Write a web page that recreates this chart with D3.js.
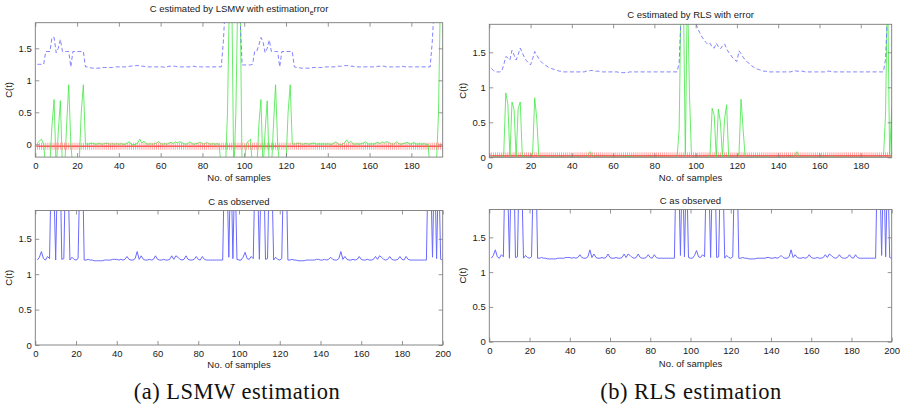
<!DOCTYPE html>
<html>
<head>
<meta charset="utf-8">
<script src="https://cdn.jsdelivr.net/npm/d3@7"></script>
<style>
  body { margin: 0; background: #fff; }
  svg { display: block; font-family: "Liberation Sans", Arial, Helvetica, sans-serif; }
</style>
</head>
<body>
<svg id="fig" width="900" height="410"></svg>
<script>
// ---- observed C(t), samples 1..200 ----
const observedC = [
  1.20,1.24,1.32,1.22,1.20,1.25,1.22,2.80,2.40,1.20,
  2.60,2.90,1.21,1.22,2.80,2.50,1.20,1.24,1.21,1.20,
  1.22,2.60,2.90,1.20,1.20,1.21,1.20,1.20,1.19,1.19,
  1.19,1.19,1.19,1.20,1.20,1.20,1.20,1.21,1.21,1.21,
  1.20,1.21,1.20,1.21,1.25,1.21,1.20,1.20,1.22,1.32,
  1.21,1.26,1.21,1.20,1.20,1.21,1.20,1.21,1.26,1.21,
  1.20,1.20,1.21,1.20,1.20,1.21,1.26,1.21,1.26,1.24,
  1.21,1.20,1.21,1.26,1.21,1.20,1.20,1.21,1.25,1.21,
  1.20,1.25,1.21,1.20,1.20,1.20,1.20,1.20,1.20,1.20,
  1.20,1.20,2.80,2.60,1.24,2.70,1.22,2.60,1.21,1.20,
  1.20,1.24,1.31,1.22,1.21,1.25,1.22,2.70,2.50,1.21,
  2.60,2.80,1.21,1.22,2.70,2.60,1.20,1.24,1.21,1.20,
  1.22,2.70,2.80,1.20,1.20,1.21,1.20,1.20,1.19,1.19,
  1.19,1.19,1.20,1.20,1.20,1.20,1.20,1.21,1.21,1.20,
  1.20,1.21,1.20,1.21,1.24,1.21,1.20,1.20,1.22,1.32,
  1.21,1.25,1.21,1.20,1.20,1.21,1.20,1.21,1.25,1.21,
  1.20,1.20,1.21,1.20,1.20,1.21,1.25,1.21,1.26,1.24,
  1.21,1.20,1.21,1.25,1.21,1.20,1.20,1.21,1.25,1.21,
  1.20,1.25,1.21,1.20,1.20,1.20,1.20,1.20,1.20,1.20,
  1.20,1.20,2.80,2.60,1.24,2.70,1.22,2.60,1.21,1.20
];

// ---- LSMW estimate and estimation error, samples 1..195 ----
const lsmwEstimate = [
  1.25,1.25,1.25,1.25,1.45,1.45,1.45,1.67,1.67,1.43,
  1.50,1.64,1.45,1.45,1.45,1.45,1.21,1.45,1.45,1.45,
  1.45,1.45,1.45,1.21,1.21,1.20,1.19,1.19,1.19,1.19,
  1.19,1.20,1.20,1.20,1.20,1.20,1.20,1.21,1.21,1.21,
  1.21,1.21,1.21,1.21,1.22,1.22,1.23,1.23,1.23,1.23,
  1.22,1.22,1.21,1.21,1.21,1.21,1.21,1.21,1.21,1.21,
  1.21,1.20,1.21,1.22,1.22,1.22,1.22,1.21,1.21,1.21,
  1.21,1.21,1.21,1.21,1.22,1.22,1.21,1.21,1.21,1.21,
  1.21,1.21,1.21,1.21,1.21,1.21,1.21,1.21,1.21,1.60,
  2.20,2.40,2.60,2.60,2.50,2.60,2.40,2.00,1.24,1.24,
  1.24,1.24,1.24,1.25,1.45,1.45,1.55,1.67,1.60,1.43,
  1.50,1.63,1.45,1.45,1.45,1.45,1.21,1.45,1.45,1.45,
  1.45,1.45,1.45,1.21,1.20,1.20,1.19,1.19,1.19,1.19,
  1.19,1.19,1.20,1.20,1.20,1.20,1.20,1.20,1.21,1.21,
  1.21,1.21,1.21,1.21,1.22,1.22,1.22,1.23,1.23,1.23,
  1.22,1.22,1.21,1.21,1.21,1.21,1.21,1.21,1.21,1.21,
  1.21,1.21,1.21,1.22,1.22,1.22,1.22,1.21,1.21,1.21,
  1.21,1.21,1.21,1.21,1.21,1.22,1.21,1.21,1.21,1.21,
  1.21,1.21,1.21,1.21,1.21,1.21,1.21,1.21,1.21,1.60,
  2.20,2.40,2.60,2.60,2.50
];
const lsmwError = [
  0.02,0.05,0.08,0.00,-0.40,-0.40,-0.30,0.30,0.70,-0.40,
  0.20,0.68,-0.40,-0.40,0.30,0.93,0.02,-0.40,-0.40,-0.40,
  -0.30,0.50,0.93,0.01,0.00,0.01,0.02,0.01,0.00,0.01,
  0.01,0.00,0.01,0.02,0.01,0.00,0.01,0.00,0.01,0.00,
  0.01,0.00,0.00,0.02,0.04,0.00,-0.01,0.00,0.02,0.08,
  0.02,0.05,0.01,0.00,0.01,0.00,0.01,0.02,0.04,0.01,
  0.00,0.01,0.00,0.02,0.03,0.01,0.04,0.02,0.04,0.03,
  0.01,0.00,0.01,0.04,0.01,0.00,0.01,0.02,0.03,0.01,
  0.00,0.03,0.01,0.00,0.01,0.00,0.01,0.00,-0.40,-0.50,
  -0.40,0.50,2.50,2.50,-0.50,0.50,2.50,2.50,-0.50,-0.30,
  0.00,0.05,0.08,-0.40,-0.40,-0.40,0.30,0.70,-0.40,0.20,
  0.68,-0.40,-0.40,0.30,0.93,0.02,-0.40,-0.40,-0.40,-0.30,
  0.50,0.93,0.01,0.00,0.01,0.02,0.01,0.00,0.01,0.01,
  0.00,0.01,0.02,0.01,0.00,0.01,0.00,0.01,0.00,0.01,
  0.00,0.00,0.02,0.04,0.00,-0.01,0.00,0.02,0.07,0.02,
  0.05,0.01,0.00,0.01,0.00,0.01,0.02,0.04,0.01,0.00,
  0.01,0.00,0.02,0.03,0.01,0.04,0.02,0.04,0.03,0.01,
  0.00,0.01,0.04,0.01,0.00,0.01,0.02,0.03,0.01,0.00,
  0.03,0.01,0.00,0.01,0.00,0.01,0.00,0.00,-0.40,-0.50,
  -0.40,-0.30,0.50,2.50,2.50
];

// ---- RLS estimate and error, samples 1..195 ----
const rlsEstimate = [
  1.27,1.24,1.22,1.22,1.22,1.23,1.32,1.44,1.42,1.39,
  1.53,1.46,1.39,1.47,1.56,1.49,1.43,1.38,1.35,1.32,
  1.41,1.51,1.46,1.41,1.37,1.34,1.32,1.30,1.28,1.27,
  1.26,1.25,1.24,1.23,1.23,1.22,1.22,1.22,1.22,1.22,
  1.22,1.22,1.22,1.22,1.22,1.22,1.23,1.23,1.24,1.24,
  1.23,1.23,1.23,1.22,1.22,1.22,1.22,1.22,1.22,1.22,
  1.22,1.22,1.21,1.21,1.21,1.21,1.21,1.22,1.22,1.22,
  1.22,1.22,1.22,1.22,1.22,1.22,1.22,1.22,1.22,1.22,
  1.22,1.22,1.22,1.22,1.22,1.22,1.22,1.22,1.22,1.22,
  1.22,1.35,2.10,2.30,2.20,2.30,2.20,2.10,2.00,1.92,
  1.84,1.78,1.72,1.68,1.64,1.61,1.63,1.57,1.56,1.63,
  1.58,1.55,1.59,1.62,1.55,1.50,1.46,1.42,1.39,1.37,
  1.52,1.48,1.43,1.39,1.36,1.34,1.31,1.29,1.27,1.26,
  1.25,1.24,1.23,1.23,1.22,1.22,1.22,1.22,1.22,1.22,
  1.22,1.22,1.22,1.22,1.22,1.22,1.23,1.24,1.23,1.23,
  1.23,1.23,1.22,1.22,1.22,1.22,1.22,1.22,1.22,1.22,
  1.22,1.22,1.22,1.23,1.23,1.22,1.22,1.22,1.22,1.22,
  1.22,1.22,1.22,1.22,1.22,1.22,1.22,1.22,1.22,1.22,
  1.22,1.22,1.22,1.22,1.22,1.22,1.22,1.22,1.22,1.22,
  1.22,1.40,2.10,2.30,2.20
];
const rlsError = [
  0.00,0.00,0.01,0.00,0.00,0.00,0.05,0.92,0.76,0.00,
  0.79,0.68,0.00,0.70,0.79,0.00,0.00,0.01,0.00,0.00,
  0.05,0.85,0.55,0.02,0.00,0.01,0.00,0.00,0.00,0.01,
  0.00,0.00,0.00,0.01,0.00,0.00,0.00,0.00,0.01,0.00,
  0.00,0.00,0.01,0.00,0.00,0.00,0.01,0.03,0.08,0.02,
  0.00,0.01,0.00,0.00,0.00,0.01,0.00,0.00,0.01,0.00,
  0.00,0.00,0.00,0.01,0.00,0.00,0.02,0.00,0.01,0.00,
  0.00,0.00,0.01,0.00,0.00,0.00,0.00,0.01,0.00,0.00,
  0.00,0.01,0.00,0.00,0.00,0.00,0.00,0.00,0.00,0.00,
  0.00,0.40,2.50,2.50,0.00,2.50,0.90,0.00,0.00,0.00,
  0.00,0.00,0.00,0.00,0.00,0.00,0.05,0.70,0.60,0.00,
  0.69,0.50,0.00,0.55,0.75,0.00,0.00,0.00,0.00,0.00,
  0.05,0.83,0.40,0.00,0.00,0.00,0.00,0.00,0.01,0.00,
  0.00,0.00,0.00,0.01,0.00,0.00,0.00,0.00,0.00,0.00,
  0.00,0.00,0.00,0.00,0.00,0.00,0.01,0.03,0.08,0.02,
  0.00,0.00,0.00,0.00,0.01,0.00,0.00,0.00,0.00,0.00,
  0.01,0.00,0.00,0.00,0.00,0.01,0.00,0.00,0.00,0.00,
  0.00,0.01,0.00,0.00,0.00,0.00,0.00,0.00,0.00,0.00,
  0.00,0.00,0.00,0.00,0.00,0.00,0.00,0.00,0.00,0.00,
  0.00,0.60,2.50,0.00,0.70
];

// level of the '+' marker row drawn under each estimate
const lsmwMarkerLevel = -0.03;
const rlsMarkerLevel = 0.02;

// axis ticks
const estXTicks = [0, 20, 40, 60, 80, 100, 120, 140, 160, 180];
const obsXTicks = [0, 20, 40, 60, 80, 100, 120, 140, 160, 180, 200];
const yTickValues = [0, 0.5, 1, 1.5];

// texts
const xLabel = "No. of samples";
const yLabel = "C(t)";
const captions = ["(a) LSMW estimation", "(b) RLS estimation"];

const COL = {
  est: "#7474ff",
  obs: "#6a6aff",
  err: "#45e845",
  mark: "#ff2a2a",
  box: "#7a7a7a",
  text: "#1a1a1a"
};

const svg = d3.select("#fig");
let clipCount = 0;

function drawPanel(cfg) {
  const { left, right, top, bottom, xDomain, yDomain, xTicks } = cfg;
  const x = d3.scaleLinear().domain(xDomain).range([left, right]);
  const y = d3.scaleLinear().domain(yDomain).range([bottom, top]);
  const g = svg.append("g");

  const clipId = "clip" + (clipCount++);
  svg.append("clipPath").attr("id", clipId)
    .append("rect").attr("x", left).attr("y", top)
    .attr("width", right - left).attr("height", bottom - top);

  const plot = g.append("g").attr("clip-path", `url(#${clipId})`);
  const line = d3.line().x((d, i) => x(i + 1)).y(d => y(d));

  if (cfg.marker !== undefined) {
    const pts = d3.range(1, cfg.markerCount + 1);
    plot.append("path")
      .attr("d", pts.map(t => {
        const cx = x(t), cy = y(cfg.marker);
        return `M${cx - 3.5},${cy}H${cx + 3.5}M${cx},${cy - 3.5}V${cy + 3.5}`;
      }).join(""))
      .attr("fill", "none").attr("stroke", COL.mark)
      .attr("stroke-width", 0.8).attr("stroke-opacity", 0.55);
  }
  if (cfg.error) {
    plot.append("path").datum(cfg.error).attr("d", line)
      .attr("fill", "none").attr("stroke", COL.err)
      .attr("stroke-width", 0.9).attr("stroke-opacity", 0.9);
  }
  if (cfg.estimate) {
    plot.append("path").datum(cfg.estimate).attr("d", line)
      .attr("fill", "none").attr("stroke", COL.est)
      .attr("stroke-width", 0.9).attr("stroke-dasharray", "4,2.5");
  }
  if (cfg.observed) {
    plot.append("path").datum(cfg.observed).attr("d", line)
      .attr("fill", "none").attr("stroke", COL.obs)
      .attr("stroke-width", 1);
  }

  // axes: ticks point inwards on all four sides
  const ax = (gen, tr, labels) => {
    const a = g.append("g").attr("transform", tr).call(gen);
    a.select(".domain").remove();
    a.selectAll(".tick line").attr("stroke", COL.box).attr("stroke-width", 0.8);
    a.selectAll(".tick text").attr("fill", COL.text)
      .style("font-size", "9.5px").style("font-family", "'Liberation Sans', Arial, sans-serif");
    if (!labels) a.selectAll(".tick text").remove();
    return a;
  };
  ax(d3.axisBottom(x).tickValues(xTicks).tickSize(-4).tickPadding(5.2).tickFormat(d3.format("d")),
     `translate(0,${bottom})`, true);
  ax(d3.axisTop(x).tickValues(xTicks).tickSize(-4), `translate(0,${top})`, false);
  ax(d3.axisLeft(y).tickValues(yTickValues).tickSize(-4).tickPadding(3.6).tickFormat(d => String(d)),
     `translate(${left},0)`, true);
  ax(d3.axisRight(y).tickValues(yTickValues).tickSize(-4), `translate(${right},0)`, false);

  g.append("rect").attr("x", left).attr("y", top)
    .attr("width", right - left).attr("height", bottom - top)
    .attr("fill", "none").attr("stroke", COL.box).attr("stroke-width", 0.9);

  const cx = (left + right) / 2;
  // title
  const title = g.append("text").attr("x", cx).attr("y", cfg.titleY)
    .attr("text-anchor", "middle").attr("fill", COL.text).style("font-size", "9.5px");
  cfg.title.forEach(part => {
    const ts = title.append("tspan").text(part.text);
    if (part.sub) ts.attr("dy", 2.5).style("font-size", "7px");
    if (part.after) ts.attr("dy", -2.5);
  });
  // x label
  g.append("text").attr("x", cx).attr("y", cfg.xLabelY)
    .attr("text-anchor", "middle").attr("fill", COL.text).style("font-size", "9.5px")
    .text(xLabel);
  // y label
  g.append("text")
    .attr("transform", `translate(${cfg.yLabelX},${(top + bottom) / 2}) rotate(-90)`)
    .attr("text-anchor", "middle").attr("fill", COL.text).style("font-size", "9.5px")
    .text(yLabel);
}

// (a) LSMW, estimate
drawPanel({
  left: 35.3, right: 442.7, top: 22.7, bottom: 157.1,
  xDomain: [0, 195], yDomain: [-0.2, 1.9], xTicks: estXTicks,
  estimate: lsmwEstimate, error: lsmwError,
  marker: lsmwMarkerLevel, markerCount: lsmwEstimate.length,
  title: [{ text: "C estimated by LSMW with estimation" }, { text: "e", sub: true }, { text: "rror", after: true }],
  titleY: 12, xLabelY: 180.5, yLabelX: 12
});
// (b) RLS, estimate
drawPanel({
  left: 489.3, right: 891.7, top: 24.3, bottom: 157.3,
  xDomain: [0, 195], yDomain: [0, 1.9], xTicks: estXTicks,
  estimate: rlsEstimate, error: rlsError,
  marker: rlsMarkerLevel, markerCount: rlsEstimate.length,
  title: [{ text: "C estimated by RLS with error" }],
  titleY: 17.5, xLabelY: 180.5, yLabelX: 466
});
// (a) observed
drawPanel({
  left: 35.3, right: 442.7, top: 210.5, bottom: 345,
  xDomain: [0, 200], yDomain: [0, 1.9], xTicks: obsXTicks,
  observed: observedC,
  title: [{ text: "C as observed" }],
  titleY: 204.5, xLabelY: 367.5, yLabelX: 12
});
// (b) observed
drawPanel({
  left: 489.3, right: 891.7, top: 209.5, bottom: 341.7,
  xDomain: [0, 200], yDomain: [0, 1.9], xTicks: obsXTicks,
  observed: observedC,
  title: [{ text: "C as observed" }],
  titleY: 203.5, xLabelY: 366.5, yLabelX: 466
});

// sub-figure captions
[[237, captions[0]], [691, captions[1]]].forEach(([cx, txt]) => {
  svg.append("text").attr("x", cx).attr("y", 399)
    .attr("text-anchor", "middle").attr("fill", "#111")
    .style("font-family", "'Liberation Serif', 'Times New Roman', serif")
    .style("font-size", "22.5px")
    .style("letter-spacing", "0.5px")
    .text(txt);
});
</script>
</body>
</html>
